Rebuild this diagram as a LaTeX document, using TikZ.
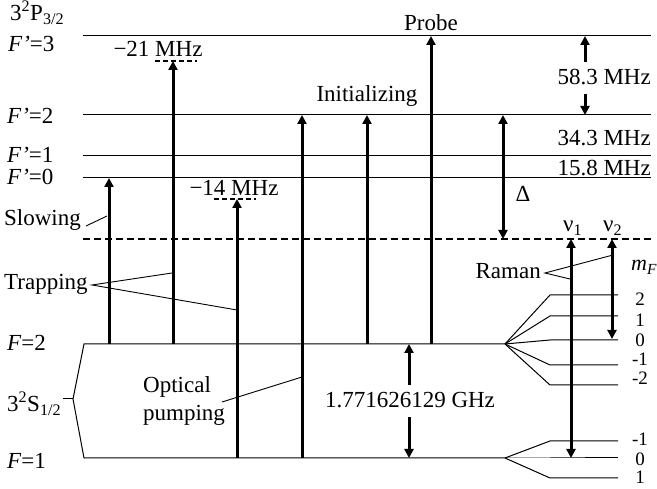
\documentclass[tikz,border=0pt]{standalone}
\usepackage{fontspec}
\setmainfont{Liberation Serif}
\usetikzlibrary{positioning,arrows.meta,calc}
\tikzset{
  lvl/.style={line width=1pt},
  virt/.style={line width=1.5pt,dash pattern=on 7pt off 4pt},
  detun/.style={line width=1.8pt,dash pattern=on 5pt off 3pt},
  beam/.style={-{Triangle[length=9pt,width=9pt]},line width=3pt},
  span/.style={{Triangle[length=9pt,width=9pt]}-{Triangle[length=9pt,width=9pt]},line width=3pt},
  lead/.style={line width=0.9pt},
  lbl/.style={font=\fontsize{23}{28}\selectfont,inner sep=0pt,anchor=base},
  lbll/.style={lbl,anchor=base west},
  lblr/.style={lbl,anchor=base east},
  mlbl/.style={font=\fontsize{19}{21}\selectfont,inner sep=0pt,anchor=base},
}
\begin{document}
\begin{tikzpicture}[x=1pt,y=-1pt]
  \useasboundingbox (0,0) rectangle (657,489);
  \foreach \n/\y in {p3/36,p2/115,p1/156,p0/178}{
    \coordinate (w\n) at (83,\y);
    \coordinate (e\n) at (651,\y);
    \draw[lvl] (w\n) -- (e\n);
  }
  \coordinate (wv) at (83,239);
  \coordinate (ev) at (652,239);
  \draw[virt] (wv) -- (ev);
  \coordinate (ws2) at (84,344); \coordinate (es2) at (505,344);
  \coordinate (ws1) at (84,458); \coordinate (es1) at (505,458);
  \coordinate (sv) at (73,399); \coordinate (st) at (63,399);
  \draw[lvl] (es2) -- (ws2) -- (sv) -- (ws1) -- (es1);
  \draw[lvl] (sv) -- (st);
  \foreach \y [count=\i] in {295,316,340,365,385}{
    \coordinate (ua\i) at (550,\y);
    \coordinate (ub\i) at (618,\y);
    \draw[lvl] (es2) -- (ua\i) -- (ub\i);
  }
  \foreach \y [count=\i] in {441,458,478}{
    \coordinate (la\i) at (550,\y);
    \coordinate (lb\i) at (618,\y);
    \draw[lvl] (es1) -- (la\i) -- (lb\i);
  }
  \foreach \n/\x/\ya/\yb in {slw/109/344/178,trp/173/344/61,opa/237/458/199,
      opb/302/458/115,ini/367/344/115,prb/431/344/36}{
    \coordinate (\n0) at (\x,\ya);
    \coordinate (\n1) at (\x,\yb);
    \draw[beam] (\n0) -- (\n1);
  }
  \coordinate (d21a) at (155,61); \coordinate (d21b) at (197,61);
  \coordinate (d14a) at (214,199); \coordinate (d14b) at (256,199);
  \draw[detun] (d21a) -- (d21b);
  \draw[detun] (d14a) -- (d14b);
  \coordinate (dlt0) at (503,115); \coordinate (dlt1) at (503,239);
  \coordinate (nu10) at (571,239); \coordinate (nu11) at (571,458);
  \coordinate (nu20) at (612,239); \coordinate (nu21) at (612,339);
  \draw[span] (dlt0) -- (dlt1);
  \draw[span] (nu10) -- (nu11);
  \draw[span] (nu20) -- (nu21);
  \coordinate (h58a) at (585,62); \coordinate (h58t) at (585,36);
  \coordinate (h58b) at (585,94); \coordinate (h58u) at (585,115);
  \draw[beam] (h58a) -- (h58t);
  \draw[beam] (h58b) -- (h58u);
  \coordinate (ghza) at (409,385); \coordinate (ghzt) at (409,344);
  \coordinate (ghzb) at (409,417); \coordinate (ghzu) at (409,458);
  \draw[beam] (ghza) -- (ghzt);
  \draw[beam] (ghzb) -- (ghzu);

  \node[lbll] (P32) at (10,21) {3\textsuperscript{2}P\textsubscript{3/2}};
  \node[lbll] (Fp3) at (8,52) {\textit{F'}=3};
  \node[lbll] (Fp2) at (7,124) {\textit{F'}=2};
  \node[lbll] (Fp1) at (7,163) {\textit{F'}=1};
  \node[lbll] (Fp0) at (7,185) {\textit{F'}=0};
  \node[lbll] (slow) at (4,226) {Slowing};
  \node[lbll] (trap) at (4,290) {Trapping};
  \node[lbll] (F2) at (7,351) {\textit{F}=2};
  \node[lbll] (F1) at (7,468) {\textit{F}=1};
  \node[lbll] (S12) at (7,412) {3\textsuperscript{2}S\textsubscript{1/2}};
  \node[lbl,font=\fontsize{23}{28}\selectfont,align=left,anchor=west]
    (pump) at (143,401) {Optical\\pumping};
  \node[lbl] (m21) at (158,57) {−21 MHz};
  \node[lbl] (m14) at (234,196) {−14 MHz};
  \node[lbl,above=5pt of prb1] (probe) {Probe};
  \node[lbl,above=8pt of ini1] (init) {Initializing};
  \node[lblr] (f583) at (651,85) {58.3 MHz};
  \node[lblr] (f343) at (651,146) {34.3 MHz};
  \node[lblr] (f158) at (651,176) {15.8 MHz};
  \node[lbl] (delta) at (523,202) {Δ};
  \node[lbll] (nu1) at (563,232) {ν\textsubscript{1}};
  \node[lbll] (nu2) at (603,232) {ν\textsubscript{2}};
  \node[lblr] (raman) at (541,279) {Raman};
  \node[lbll,font=\fontsize{22}{26}\selectfont] (mF) at (631,271)
    {\textit{m}\textsubscript{\textit{F}}};
  \node[lbl] (ghz) at (410,408) {1.771626129 GHz};
  \foreach \t/\y [count=\i] in {2/306,1/327,0/347,-1/366,-2/385}
    \node[mlbl] (mu\i) at (640,\y) {\t};
  \foreach \t/\y [count=\i] in {-1/446,0/465,1/484}
    \node[mlbl] (ml\i) at (640,\y) {\t};

  \coordinate (slowL) at (86,226); \coordinate (slowR) at (107,216);
  \draw[lead] (slowL) -- (slowR);
  \coordinate (trapV) at (92,285);
  \coordinate (trapA) at (172,273); \coordinate (trapB) at (237,310);
  \draw[lead] (trapA) -- (trapV) -- (trapB);
  \coordinate (pumpL) at (222,402); \coordinate (pumpR) at (302,377);
  \draw[lead] (pumpL) -- (pumpR);
  \coordinate (ramV) at (545,273);
  \coordinate (ramA) at (613,255); \coordinate (ramB) at (570,279);
  \draw[lead] (ramA) -- (ramV) -- (ramB);
\end{tikzpicture}
\end{document}
